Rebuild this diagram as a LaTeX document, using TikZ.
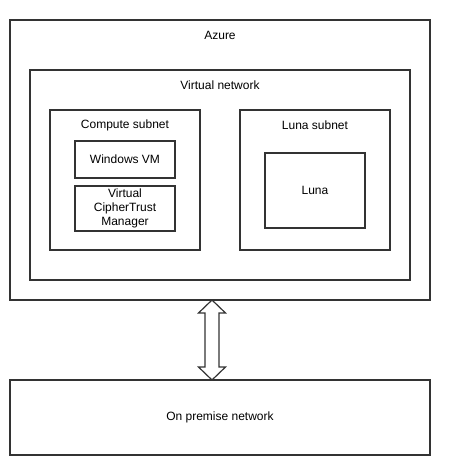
\documentclass[tikz,border=0pt]{standalone}
\usepackage{fontspec}
\setmainfont{Liberation Sans}
\usetikzlibrary{calc,positioning}
\tikzset{
  box/.style={draw=black!80, line width=2pt, inner sep=0pt, outer sep=0pt},
  title/.style={inner sep=0pt, font=\fontsize{12}{14}\selectfont},
  link/.style={draw=black!80, line width=1.2pt, fill=white, line join=miter}
}

\begin{document}
\begin{tikzpicture}[x=1pt, y=-1pt]
          \useasboundingbox (0,0) rectangle (450,475);

          \node[box, minimum width=420pt, minimum height=280pt] (azure) at (220,160) {};
          \node[title] (azuretxt) at (220,35) {Azure};

          \node[box, minimum width=380pt, minimum height=210pt] (vnet) at (220,175) {};
          \node[title] (vnettxt) at (220,85) {Virtual network};

          \node[box, minimum width=150pt, minimum height=140pt] (compute) at (125,180) {};
          \node[title] (computetxt) at (125,125) {Compute subnet};
          \node[box, title, minimum width=100pt, minimum height=37pt] (winvm) at (125,159.5) {Windows VM};
          \node[box, title, align=center, minimum width=100pt, minimum height=45pt] (vctm) at (125,208.5) {Virtual\\CipherTrust\\Manager};

          \node[box, minimum width=150pt, minimum height=140pt] (lunasub) at (315,180) {};
          \node[title] (lunasubtxt) at (315,125) {Luna subnet};
          \node[box, title, minimum width=100pt, minimum height=75pt] (luna) at (315,190.5) {Luna};

          \node[box, title, minimum width=420pt, minimum height=75pt] (onprem) at (220,417.5) {On premise network};

          % two way link
          \coordinate (up) at (azure.south -| 212,0);
          \coordinate (dn) at (onprem.north -| 212,0);
          \draw[link] (up) -- ++(13.5,13) -- ++(-6.5,0) -- ++(0,54) -- ++(6.5,0) -- (dn)
            -- ++(-13.5,-13) -- ++(6.5,0) -- ++(0,-54) -- ++(-6.5,0) -- cycle;
        \end{tikzpicture}
\end{document}
